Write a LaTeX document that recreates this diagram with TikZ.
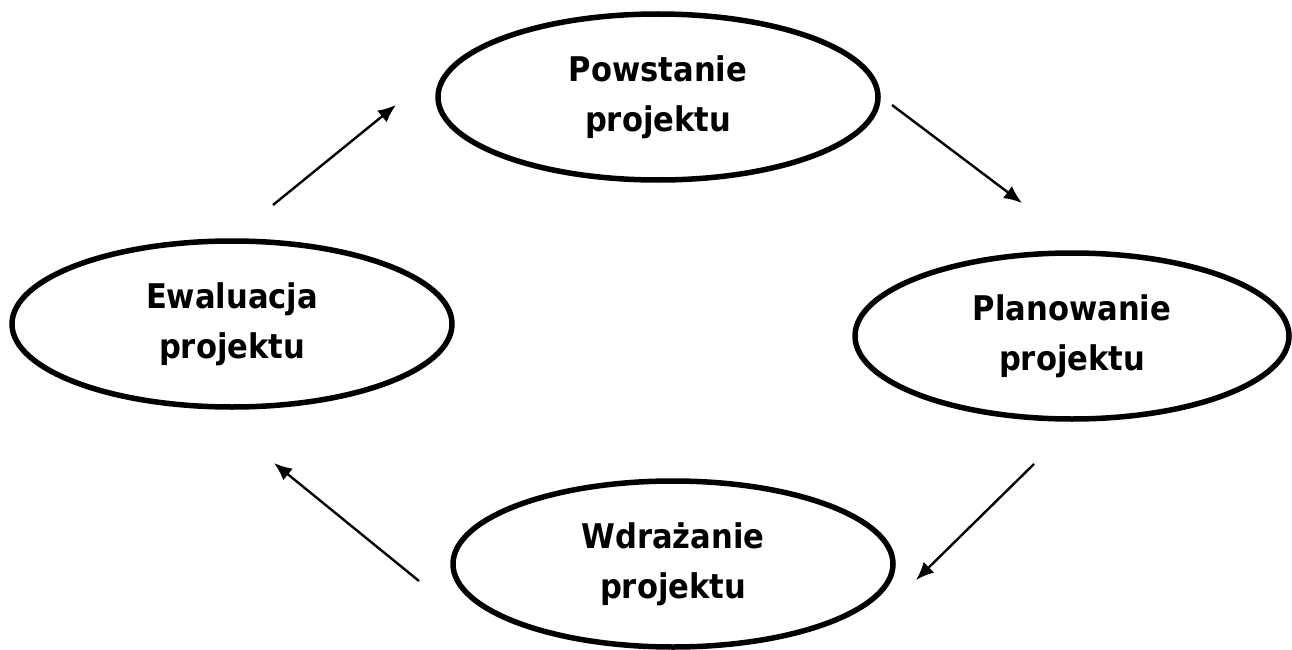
\documentclass[tikz,border=0pt]{standalone}
\usepackage{fontspec}
\setmainfont{DejaVu Sans Condensed}
\usetikzlibrary{shapes.geometric,arrows.meta}
\tikzset{
  phase/.style={ellipse, draw=black, line width=5.5pt, fill=white,
    minimum width=440pt, minimum height=166pt, inner sep=0pt,
    align=center, font=\fontsize{34}{50}\selectfont\bfseries},
  flow/.style={line width=2.4pt, -{Latex[length=18pt,width=15pt]}}
}
\begin{document}
\begin{tikzpicture}[x=1pt,y=-1pt]
\useasboundingbox (0,0) rectangle (1292,650);
\node[phase] (pow) at (658,97) {Powstanie\\projektu};
\node[phase, minimum width=434pt] (plan) at (1072,336) {Planowanie\\projektu};
\node[phase] (wdr) at (673,564) {Wdrażanie\\projektu};
\node[phase] (ewa) at (232,324) {Ewaluacja\\projektu};
\coordinate (a1s) at (273,205); \coordinate (a1e) at (396,105);
\coordinate (a2s) at (892,105); \coordinate (a2e) at (1022,203);
\coordinate (a3s) at (1034,464); \coordinate (a3e) at (916,580);
\coordinate (a4s) at (419,581); \coordinate (a4e) at (274,463);
\draw[flow] (a1s) -- (a1e);
\draw[flow] (a2s) -- (a2e);
\draw[flow] (a3s) -- (a3e);
\draw[flow] (a4s) -- (a4e);
\end{tikzpicture}
\end{document}
